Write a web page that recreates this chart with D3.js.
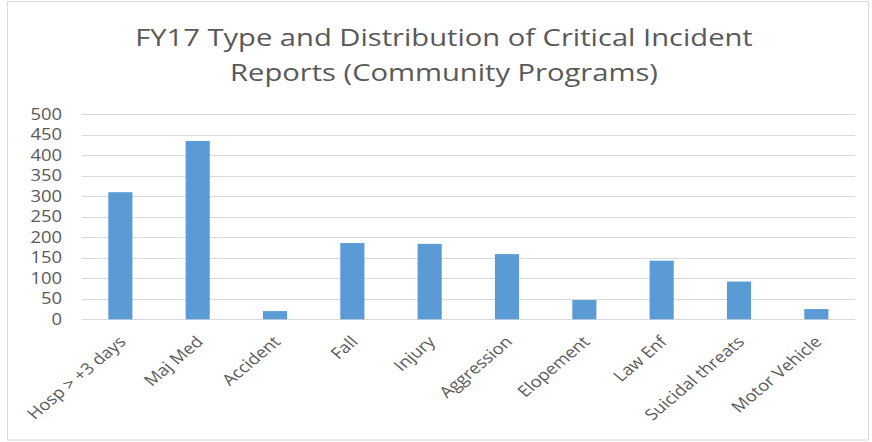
<!DOCTYPE html>
<html><head><meta charset="utf-8">
<script src="https://cdn.jsdelivr.net/npm/d3@7"></script>
<style>body{margin:0;background:#fff}svg{display:block}</style>
</head><body>
<script>
const categories = ["Hosp > +3 days","Maj Med","Accident","Fall","Injury","Aggression","Elopement","Law Enf","Suicidal threats","Motor Vehicle"];
const values = [310, 435, 20, 186, 184, 159, 47, 143, 92, 25];
const yTicks = [0,50,100,150,200,250,300,350,400,450,500];
const titleLines = ["FY17 Type and Distribution of Critical Incident","Reports (Community Programs)"];

const W = 872, H = 442;
const SX = 1.19; // horizontal stretch of text seen in the reference
const svg = d3.select("body").append("svg").attr("width", W).attr("height", H);
const font = "'Open Sans', sans-serif";
const grey = "#595959";

svg.append("rect").attr("x",7.5).attr("y",1.5).attr("width",861).attr("height",438.5)
  .attr("fill","#fff").attr("stroke","#d9d9d9");

const x = d3.scaleBand().domain(categories).range([81.7, 855]).paddingInner(0.688).paddingOuter(0.344);
const y = d3.scaleLinear().domain([0,500]).range([319.3, 114.3]);

// gridlines
svg.append("g").selectAll("line").data(yTicks).join("line")
  .attr("x1",81.7).attr("x2",855)
  .attr("y1",d=>Math.round(y(d))+0.5).attr("y2",d=>Math.round(y(d))+0.5)
  .attr("stroke","#d9d9d9").attr("stroke-width",1);

// y axis labels
const yAxis = d3.axisLeft(y).tickValues(yTicks).tickSize(0).tickPadding(0);
const gy = svg.append("g").attr("transform",`translate(62,0) scale(${SX},1)`).call(yAxis);
gy.select(".domain").remove();
gy.selectAll("text").attr("font-family",font).attr("font-size","15.5px").attr("fill",grey);

// bars
svg.append("g").selectAll("rect").data(values).join("rect")
  .attr("x",(d,i)=>x(categories[i]))
  .attr("width",x.bandwidth())
  .attr("y",d=>y(d))
  .attr("height",d=>y(0)-y(d))
  .attr("fill","#5b9bd5");

// x labels
svg.append("g").selectAll("text").data(categories).join("text")
  .attr("transform",d=>`translate(${x(d)+x.bandwidth()/2+2},${339}) scale(${SX},1) rotate(-45)`)
  .attr("text-anchor","end")
  .attr("dy","0.35em")
  .attr("font-family",font).attr("font-size","15.5px").attr("fill",grey)
  .text(d=>d);

// title
svg.append("g").selectAll("text").data(titleLines).join("text")
  .attr("transform",(d,i)=>`translate(444,${46+i*34.5}) scale(${SX},1)`)
  .attr("text-anchor","middle")
  .attr("font-family",font).attr("font-size","24.5px").attr("fill",grey)
  .text(d=>d);
</script>
</body></html>
